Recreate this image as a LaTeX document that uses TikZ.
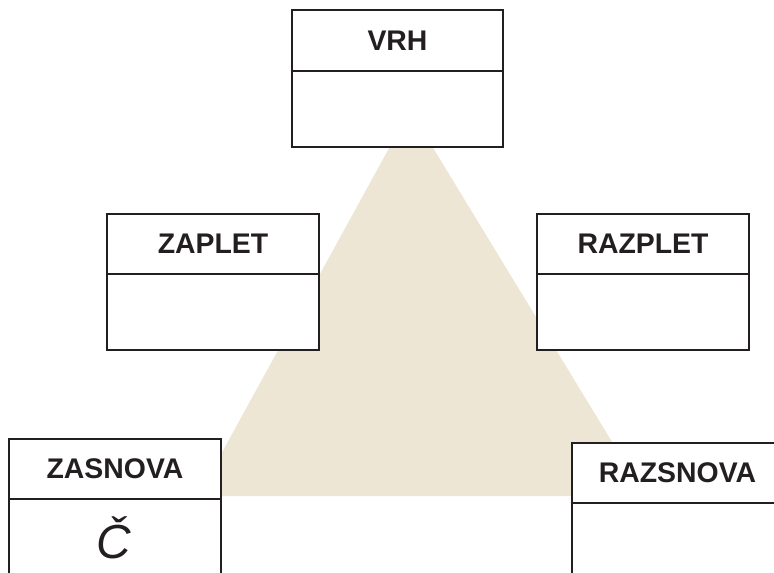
\documentclass[tikz,border=0pt]{standalone}
\usepackage{fontspec}
\setmainfont{Liberation Sans}
\definecolor{boxline}{RGB}{35,31,32}
\definecolor{sand}{RGB}{238,230,212}
\begin{document}
\begin{tikzpicture}[x=1bp,y=-1bp,
  cell/.style={draw=boxline, line width=2.8bp, fill=white},
  divider/.style={draw=boxline, line width=2.8bp},
  head/.style={font=\fontsize{28.5}{32}\selectfont\bfseries, text=boxline, inner sep=0pt},
  glyph/.style={font=\fontsize{48}{52}\selectfont\itshape, text=boxline, inner sep=0pt}]
\useasboundingbox (0,0) rectangle (774,573);
\clip (0,0) rectangle (774,573);
% triangle
\fill[sand] (410,110) -- (198,496) -- (645,496) -- cycle;
% VRH
\draw[cell] (292,10) rectangle (503,147);
\draw[divider] (292,71) -- (503,71);
\node[head] (vrh) at (397.5,41) {VRH};
% ZAPLET
\draw[cell] (107,214) rectangle (319,350);
\draw[divider] (107,274) -- (319,274);
\node[head] (zaplet) at (213,244) {ZAPLET};
% RAZPLET
\draw[cell] (537,214) rectangle (749,350);
\draw[divider] (537,274) -- (749,274);
\node[head] (razplet) at (643,244) {RAZPLET};
% ZASNOVA
\draw[cell] (9,439) rectangle (221,590);
\draw[divider] (9,499) -- (221,499);
\node[head] (zasnova) at (115,469) {ZASNOVA};
\node[glyph] (c) at (114,538) {Č};
% RAZSNOVA
\draw[cell] (572,443) rectangle (790,590);
\draw[divider] (572,503) -- (790,503);
\node[head] (razsnova) at (677.5,473) {RAZSNOVA};
\end{tikzpicture}
\end{document}
